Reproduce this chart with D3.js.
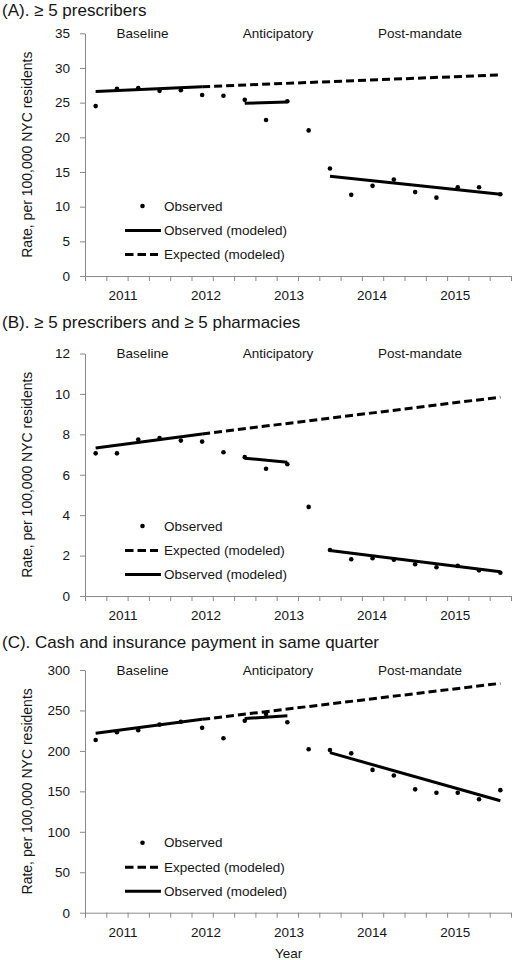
<!DOCTYPE html>
<html><head><meta charset="utf-8">
<script src="https://cdn.jsdelivr.net/npm/d3@7/dist/d3.min.js"></script>
<style>
body{margin:0;background:#fff}
svg{display:block}
text{font-family:"Liberation Sans",Arial,Helvetica,sans-serif;fill:#151515}
</style>
</head><body>
<svg id="chart" width="514" height="960"></svg>
<script>
// ---------- DATA ----------
const quarters = ["2011Q1","2011Q2","2011Q3","2011Q4","2012Q1","2012Q2","2012Q3","2012Q4",
  "2013Q1","2013Q2","2013Q3","2013Q4","2014Q1","2014Q2","2014Q3","2014Q4",
  "2015Q1","2015Q2","2015Q3","2015Q4"];
const yearLabels = ["2011","2012","2013","2014","2015"];
const phaseLabels = ["Baseline","Anticipatory","Post-mandate"];
const panelTitles = ["(A). \u2265 5 prescribers",
  "(B). \u2265 5 prescribers and \u2265 5 pharmacies",
  "(C). Cash and insurance payment in same quarter"];
const yAxisTitle = "Rate, per 100,000 NYC residents";
const xAxisTitle = "Year";

const yTicksA = [0,5,10,15,20,25,30,35];
const yTicksB = [0,2,4,6,8,10,12];
const yTicksC = [0,50,100,150,200,250,300];

const observedA = [24.5,27.0,27.1,26.7,26.8,26.1,26.0,25.4,22.5,25.2,21.0,15.5,11.7,13.0,13.9,12.1,11.3,12.8,12.8,11.8];
const observedB = [7.06,7.06,7.74,7.82,7.69,7.64,7.11,6.87,6.30,6.52,4.41,2.28,1.82,1.87,1.80,1.57,1.42,1.49,1.27,1.15];
const observedC = [213.5,223,225.5,232.5,236,228.5,215.6,237.3,245.5,235.5,202,201,197,176.5,169.5,152.5,148.3,148.3,140.2,151.5];

// modeled segments: [quarter, value] endpoints
const baselineModelA = [["2011Q1",26.6],["2012Q2",27.3]];
const expectedModelA = [["2012Q2",27.3],["2015Q4",29.0]];
const anticipModelA  = [["2012Q4",24.9],["2013Q2",25.1]];
const postModelA     = [["2013Q4",14.4],["2015Q4",11.8]];

const baselineModelB = [["2011Q1",7.32],["2012Q2",8.02]];
const expectedModelB = [["2012Q2",8.02],["2015Q4",9.84]];
const anticipModelB  = [["2012Q4",6.82],["2013Q2",6.62]];
const postModelB     = [["2013Q4",2.25],["2015Q4",1.20]];

const baselineModelC = [["2011Q1",221.7],["2012Q2",239.0]];
const expectedModelC = [["2012Q2",239.0],["2015Q4",283.5]];
const anticipModelC  = [["2012Q4",240.0],["2013Q2",243.5]];
const postModelC     = [["2013Q4",197.8],["2015Q4",138.4]];

const legendOrderA = ["Observed","Observed (modeled)","Expected (modeled)"];
const legendOrderBC = ["Observed","Expected (modeled)","Observed (modeled)"];

// ---------- LAYOUT ----------
const plotLeft = 85, plotRight = 511;
const panels = [
  {title: panelTitles[0], titleY: 15.5, top: 33.3, bottom: 276, ticks: yTicksA, obs: observedA,
   solid: [baselineModelA, anticipModelA, postModelA], dashed: [expectedModelA], legend: legendOrderA},
  {title: panelTitles[1], titleY: 328.3, top: 353.5, bottom: 596, ticks: yTicksB, obs: observedB,
   solid: [baselineModelB, anticipModelB, postModelB], dashed: [expectedModelB], legend: legendOrderBC},
  {title: panelTitles[2], titleY: 648.3, top: 670, bottom: 912.7, ticks: yTicksC, obs: observedC,
   solid: [baselineModelC, anticipModelC, postModelC], dashed: [expectedModelC], legend: legendOrderBC}
];
const phasePos = [2.7, 9.06, 15.73];       // in quarter units
const yearPos0 = 1.78, yearStep = 3.9;     // in quarter units
const axisColor = "#8a8a8a";
const fs = "13.5px";

const svg = d3.select("#chart");
const qx = d3.scaleLinear().domain([0, quarters.length]).range([plotLeft, plotRight]);
const xq = q => qx(quarters.indexOf(q) + 0.5);

panels.forEach((p, pi) => {
  const g = svg.append("g");
  const yMax = d3.max(p.ticks);
  const y = d3.scaleLinear().domain([0, yMax]).range([p.bottom, p.top]);

  // title
  g.append("text").attr("x", 2).attr("y", p.titleY).style("font-size", "17px").text(p.title);

  // y axis
  const ya = g.append("g").attr("transform", `translate(${plotLeft},0)`)
    .call(d3.axisLeft(y).tickValues(p.ticks).tickSize(5).tickSizeOuter(0).tickPadding(10));
  ya.selectAll("text").style("font-size", fs).attr("fill", "#151515");
  ya.selectAll("line,path").attr("stroke", axisColor);

  // x axis
  const xa = g.append("g").attr("transform", `translate(0,${p.bottom})`)
    .call(d3.axisBottom(qx).tickValues(d3.range(quarters.length + 1)).tickSize(5).tickSizeOuter(0).tickFormat(""));
  xa.selectAll("line,path").attr("stroke", axisColor);

  // year labels
  g.selectAll(".yl").data(yearLabels).enter().append("text")
    .attr("x", (d, i) => qx(yearPos0 + yearStep * i)).attr("y", p.bottom + 24)
    .attr("text-anchor", "middle").style("font-size", fs).text(d => d);

  // phase labels
  g.selectAll(".pl").data(phaseLabels).enter().append("text")
    .attr("x", (d, i) => qx(phasePos[i])).attr("y", p.top).attr("dy", "0.35em")
    .attr("text-anchor", "middle").style("font-size", fs).text(d => d);

  // y axis title
  g.append("text")
    .attr("transform", `translate(27.5,${(p.top + p.bottom) / 2}) rotate(-90)`)
    .attr("text-anchor", "middle").attr("dy", "0.35em").style("font-size", "14px").text(yAxisTitle);

  const line = d3.line().x(d => xq(d[0])).y(d => y(d[1]));
  // dashed expected
  p.dashed.forEach(seg => g.append("path").attr("d", line(seg)).attr("fill", "none")
    .attr("stroke", "#000").attr("stroke-width", 3).attr("stroke-dasharray", "8,4"));
  // solid modeled
  p.solid.forEach(seg => g.append("path").attr("d", line(seg)).attr("fill", "none")
    .attr("stroke", "#000").attr("stroke-width", 3));
  // observed points
  g.selectAll(".pt").data(p.obs).enter().append("circle")
    .attr("cx", (d, i) => xq(quarters[i])).attr("cy", d => y(d)).attr("r", 2.3).attr("fill", "#000");

  // legend
  const rowsOff = [70, 45.5, 21.5];
  p.legend.forEach((name, i) => {
    const ly = p.bottom - rowsOff[i];
    if (name === "Observed") {
      g.append("circle").attr("cx", 142.5).attr("cy", ly).attr("r", 2.3).attr("fill", "#000");
    } else if (name === "Observed (modeled)") {
      g.append("line").attr("x1", 125).attr("x2", 161).attr("y1", ly).attr("y2", ly)
        .attr("stroke", "#000").attr("stroke-width", 3);
    } else {
      g.append("line").attr("x1", 125).attr("x2", 158).attr("y1", ly).attr("y2", ly)
        .attr("stroke", "#000").attr("stroke-width", 3).attr("stroke-dasharray", "8.5,4");
    }
    g.append("text").attr("x", 164).attr("y", ly).attr("dy", "0.35em").style("font-size", fs).text(name);
  });

  if (pi === panels.length - 1) {
    g.append("text").attr("x", qx(yearPos0 + yearStep * 2) - 0.5).attr("y", 958)
      .attr("text-anchor", "middle").style("font-size", fs).text(xAxisTitle);
  }
});
</script>
</body></html>
